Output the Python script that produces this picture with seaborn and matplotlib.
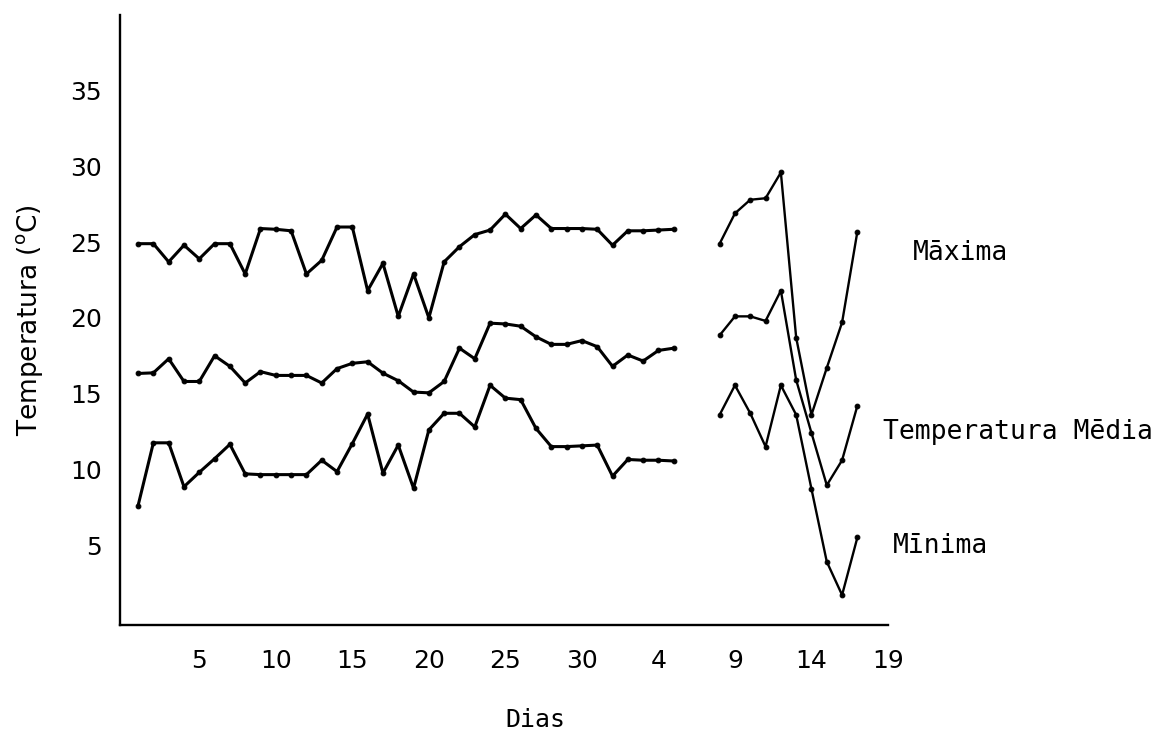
import numpy as np
import pandas as pd
import matplotlib
matplotlib.use("Agg")
import matplotlib.pyplot as plt
import seaborn as sns

# ---- data ----
dias_1 = list(range(1, 37))
maxima_1 = [24.9, 24.9, 23.7, 24.8, 23.9, 24.9, 24.9, 22.9, 25.9, 25.85, 25.75, 22.9,
            23.8, 26.0, 26.0, 21.8, 23.6, 20.1, 22.9, 20.0, 23.7, 24.7, 25.5, 25.8,
            26.85, 25.9, 26.8, 25.9, 25.9, 25.9, 25.85, 24.8, 25.75, 25.75, 25.8, 25.85]
media_1 = [16.33, 16.37, 17.3, 15.8, 15.8, 17.5, 16.8, 15.7, 16.45, 16.2, 16.2, 16.2,
           15.7, 16.65, 17.0, 17.1, 16.35, 15.85, 15.1, 15.05, 15.8, 18.0, 17.3, 19.65,
           19.6, 19.45, 18.75, 18.25, 18.25, 18.5, 18.1, 16.8, 17.55, 17.15, 17.85, 18.0]
minima_1 = [7.6, 11.75, 11.75, 8.85, 9.8, 10.7, 11.65, 9.7, 9.65, 9.65, 9.65, 9.65,
            10.6, 9.85, 11.7, 13.65, 9.75, 11.6, 8.75, 12.6, 13.7, 13.7, 12.8, 15.55,
            14.7, 14.6, 12.7, 11.5, 11.5, 11.55, 11.6, 9.55, 10.65, 10.6, 10.6, 10.55]

dias_2 = list(range(39, 49))
maxima_2 = [24.9, 26.9, 27.8, 27.9, 29.6, 18.7, 13.6, 16.7, 19.7, 25.7]
media_2 = [18.85, 20.1, 20.1, 19.8, 21.8, 15.9, 12.4, 8.95, 10.6, 14.2]
minima_2 = [13.6, 15.55, 13.7, 11.5, 15.55, 13.6, 8.7, 3.9, 1.7, 5.5]

xtick_pos = [5, 10, 15, 20, 25, 30, 35, 40, 45, 50]
xtick_labels = ["5", "10", "15", "20", "25", "30", "4", "9", "14", "19"]
ytick_pos = [5, 10, 15, 20, 25, 30, 35]

series_names = ["Māxima", "Temperatura Mēdia", "Mīnima"]

# ---- figure ----
sns.set_theme(style="white")
plt.rcParams["font.family"] = ["DejaVu Sans"]

fig = plt.figure(figsize=(11.58, 7.35), dpi=100)
ax = fig.add_axes([120 / 1158, 1 - 625 / 735, (888 - 120) / 1158, (625 - 15) / 735])

segments = [
    (dias_1, [maxima_1, media_1, minima_1], 2.2),
    (dias_2, [maxima_2, media_2, minima_2], 1.7),
]
for dias, vals, lw in segments:
    for name, v in zip(series_names, vals):
        df = pd.DataFrame({"dia": dias, "temp": v})
        sns.lineplot(data=df, x="dia", y="temp", ax=ax, color="black",
                     linewidth=lw, marker="o", markersize=3.4,
                     markeredgecolor="black", estimator=None, sort=False)

ax.set_xlim(-0.18, 50.0)
ax.set_ylim(-0.28, 40.0)
ax.set_xticks(xtick_pos)
ax.set_xticklabels(xtick_labels)
ax.set_yticks(ytick_pos)
ax.set_yticklabels([str(t) for t in ytick_pos])
ax.tick_params(axis="both", which="major", labelsize=18, length=2, width=1,
               color="black", labelcolor="black", direction="out")
ax.tick_params(axis="y", pad=11)
ax.tick_params(axis="x", pad=15)

for s in ["top", "right"]:
    ax.spines[s].set_visible(False)
for s in ["left", "bottom"]:
    ax.spines[s].set_color("black")
    ax.spines[s].set_linewidth(1.7)

ax.set_xlabel("")
ax.set_ylabel("Temperatura ($^{\\mathrm{o}}$C)", fontsize=19, color="black", labelpad=18)

mono = "DejaVu Sans Mono"
fig.text(535 / 1158, 1 - 720 / 735, "Dias", fontsize=18, family=mono,
         ha="center", va="center", color="black")

fig.text(913 / 1158, 1 - 253 / 735, series_names[0], fontsize=19, family=mono,
         ha="left", va="center", color="black")
fig.text(883 / 1158, 1 - 432 / 735, series_names[1], fontsize=19, family=mono,
         ha="left", va="center", color="black")
fig.text(893 / 1158, 1 - 546 / 735, series_names[2], fontsize=19, family=mono,
         ha="left", va="center", color="black")

fig.savefig("out.png", dpi=100, facecolor="white")
